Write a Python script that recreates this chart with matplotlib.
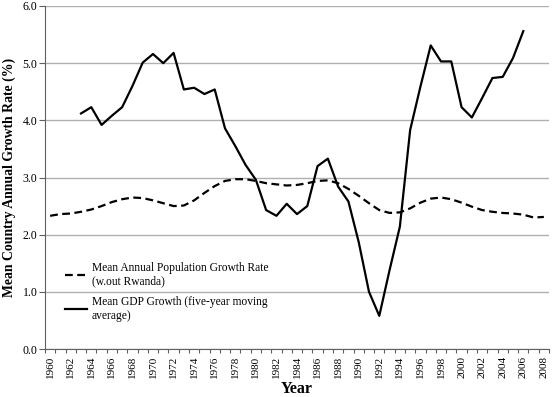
import matplotlib
matplotlib.use("Agg")
import matplotlib.pyplot as plt
from matplotlib.ticker import FixedLocator, NullFormatter

years_pop = list(range(1960, 2009))
pop_growth = [2.33, 2.36, 2.37, 2.40, 2.44, 2.50, 2.57, 2.62, 2.65, 2.64,
              2.60, 2.55, 2.50, 2.51, 2.60, 2.73, 2.85, 2.94, 2.97, 2.97,
              2.94, 2.90, 2.88, 2.86, 2.87, 2.90, 2.94, 2.95, 2.90, 2.80,
              2.68, 2.55, 2.43, 2.38, 2.39, 2.46, 2.56, 2.63, 2.65, 2.62,
              2.56, 2.49, 2.43, 2.40, 2.38, 2.37, 2.35, 2.30, 2.31]

years_gdp = list(range(1963, 2007))
gdp_growth = [4.12, 4.23, 3.92, 4.08, 4.23, 4.60, 5.01, 5.16, 5.00, 5.18,
              4.54, 4.57, 4.46, 4.54, 3.86, 3.55, 3.22, 2.96, 2.43, 2.33,
              2.54, 2.36, 2.50, 3.20, 3.33, 2.84, 2.58, 1.87, 1.00, 0.58,
              1.38, 2.14, 3.83, 4.59, 5.31, 5.03, 5.03, 4.23, 4.05, 4.39,
              4.74, 4.76, 5.09, 5.56]

xtick_labels = [str(y) for y in range(1960, 2009, 2)]
ytick_values = [0, 1, 2, 3, 4, 5, 6]

pop_label = "Mean Annual Population Growth Rate\n(w.out Rwanda)"
gdp_label = "Mean GDP Growth (five-year moving\naverage)"

plt.rcParams['font.family'] = ['Liberation Serif', 'DejaVu Serif']

fig = plt.figure(figsize=(5.53, 3.97), dpi=100)
ax = fig.add_axes([45/553, 1-349/397, 504/553, 343/397])

ax.plot(years_pop, pop_growth, color='black', lw=1.6, ls=(0, (3.5, 2)),
        label=pop_label)
ax.plot(years_gdp, gdp_growth, color='black', lw=1.6, label=gdp_label)

ax.set_xlim(1959.5, 2008.5)
ax.set_ylim(0, 6)

ax.yaxis.set_major_locator(FixedLocator(ytick_values))
ax.set_yticklabels([f"{v:.1f}" for v in ytick_values], fontsize=8.6)
ax.yaxis.grid(True, color='#b0b0b0', lw=1)
ax.set_axisbelow(True)

# tick marks between categories, labels at even years
ax.xaxis.set_major_locator(FixedLocator([1959.5 + i for i in range(50)]))
ax.xaxis.set_major_formatter(NullFormatter())
ax.set_xticks(list(range(1960, 2009, 2)), minor=True)
ax.set_xticklabels(xtick_labels, minor=True, rotation=90, fontsize=8)
ax.tick_params(axis='x', which='major', length=3, color='#606060', direction='out')
ax.tick_params(axis='x', which='minor', length=0, pad=5)
ax.tick_params(axis='y', length=4, color='#606060', direction='out', pad=1.5)

for s in ['top', 'right']:
    ax.spines[s].set_visible(False)
ax.spines['left'].set_color('#606060')
ax.spines['bottom'].set_color('#606060')

ax.set_ylabel("Mean Country Annual Growth Rate (%)", fontsize=9.9,
              fontweight='bold', labelpad=5)
ax.set_xlabel("Year", fontsize=11.5, fontweight='bold', labelpad=2)

leg = ax.legend(loc='upper left', bbox_to_anchor=(0.019, 0.285), frameon=False,
                fontsize=8.3, handlelength=1.9, handletextpad=0.45,
                labelspacing=0.75)

fig.savefig("out.png", dpi=100)
